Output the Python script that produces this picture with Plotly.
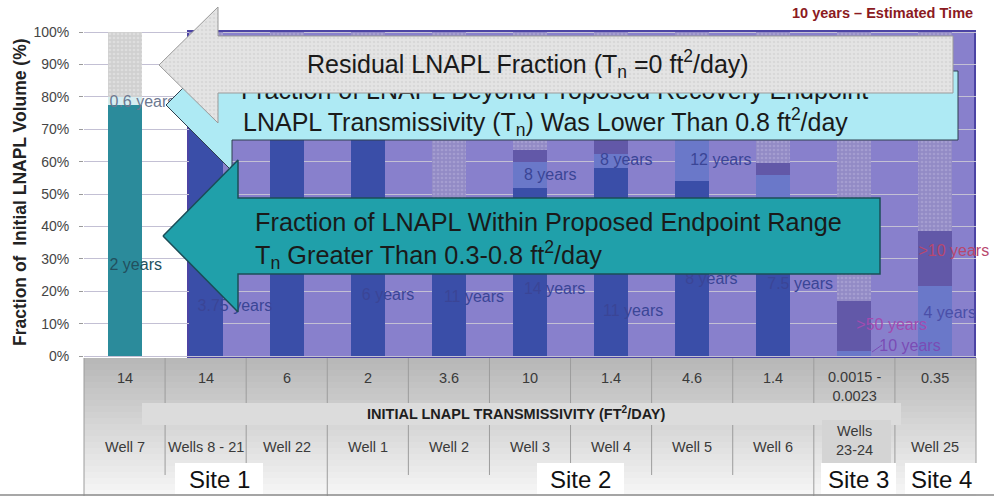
import plotly.graph_objects as go

# ---------------- data ----------------
wells = ["Well 7", "Wells 8 - 21", "Well 22", "Well 1", "Well 2", "Well 3",
         "Well 4", "Well 5", "Well 6", "Wells<br>23-24", "Well 25"]
transmissivity = ["14", "14", "6", "2", "3.6", "10", "1.4", "4.6", "1.4",
                  "0.0015 -<br>0.0023", "0.35"]
sites = ["Site 1", "Site 2", "Site 3", "Site 4"]

# fractions of initial LNAPL volume (%), stacked bottom to top
within_endpoint = [77.5, 80, 75, 70, 48, 52, 58, 54, 45, 0, 0]
beyond_endpoint = [2.5, 0, 0, 0, 0, 8, 4.5, 16, 11, 1.5, 21.5]
beyond_ten_years = [0, 0, 0, 0, 0, 3.5, 5, 0, 3.5, 15.5, 17]
residual = [20, 20, 25, 30, 52, 36.5, 32.5, 30, 40.5, 83, 61.5]

# estimated recovery time labels: (well index, height in %, text)
time_labels = [
    (0, 78.1, "0.6 years"), (0, 27.8, "2 years"), (1, 15.1, "3.75 years"),
    (3, 18.5, "6 years"), (4, 17.9, "11 years"), (5, 20.4, "14 years"),
    (6, 13.6, "11 years"), (7, 23.5, "8 years"), (8, 21.9, "7.5 years"),
    (5, 55.6, "8 years"), (6, 60.2, "8 years"), (7, 60.2, "12 years"),
    (10, 32.1, ">10 years"), (10, 13.0, "4 years"),
    (9, 9.3, ">50 years"), (9, 2.8, "10 years"),
]
# label placement (pixels right of the bar's left edge) and colour
label_style = [
    (2, "#6c7890"), (2, "#22505e"), (9, "#3a4596"),
    (11, "#3a4596"), (12, "#3a4596"), (11, "#3a4596"),
    (9, "#3a4596"), (10, "#3a4596"), (11, "#3a4596"),
    (11, "#3a4596"), (6, "#3a4596"), (15, "#3a4596"),
    (0, "#b8476e"), (5, "#4a4fa8"),
    (19, "#a24bb0"), (42, "#7a4cb5"),
]

# ---------------- geometry helpers ----------------
W, H = 994, 496
L, R = 84, 976          # horizontal extent of the category columns
Y0, Y100 = 356, 32      # pixel rows of 0 % and 100 %
N = len(wells)
CW = (R - L) / N
BAR_W = 0.42
FONT = "Arial, Liberation Sans, sans-serif"


def X(px):
    return -0.5 + (px - L) / CW


def Y(py):
    return (Y0 - py) * 100.0 / (Y0 - Y100)


def PX(px):
    return (px - L) / (R - L)


def PY(py):
    return 1 - py / H


idx = list(range(N))
inside = [i > 0 for i in idx]   # columns under the shaded band


def pick(outside_col, inside_col):
    return [inside_col if s else outside_col for s in inside]


fig = go.Figure()

fig.add_bar(x=idx, y=within_endpoint, width=BAR_W,
            marker=dict(color=pick("#2b8b9b", "#3a4ea8"), line_width=0),
            hoverinfo="skip")
fig.add_bar(x=idx, y=beyond_endpoint, width=BAR_W,
            marker=dict(color=pick("#d6edf1", "#6a78c9"), line_width=0),
            hoverinfo="skip")
fig.add_bar(x=idx, y=beyond_ten_years, width=BAR_W,
            marker=dict(color=pick("#8c8c8c", "#6258a8"), line_width=0),
            hoverinfo="skip")
# residual fraction: speckled grey, tinted where the band covers it
for shaded, bg, fg in [(False, "#d0d0d0", "#ececec"), (True, "#928bc5", "#b5afdc")]:
    fig.add_bar(x=idx, y=[v if s == shaded else 0 for v, s in zip(residual, inside)],
                width=BAR_W,
                marker=dict(color=bg, line_width=0,
                            pattern=dict(shape=".", fgcolor=fg, size=4,
                                         solidity=0.35, fillmode="overlay")),
                hoverinfo="skip")

# recovery-time labels
fig.add_scatter(
    x=[w - BAR_W / 2 + st[0] / CW for (w, _, _), st in zip(time_labels, label_style)],
    y=[v for _, v, _ in time_labels],
    text=[t for _, _, t in time_labels],
    mode="text", textposition="middle right",
    textfont=dict(family=FONT, size=16, color=[st[1] for st in label_style]),
    cliponaxis=False, hoverinfo="skip")


def arrow(points, fill, edge, width, z, pattern=None):
    xs = [X(p[0]) for p in points] + [X(points[0][0])]
    ys = [Y(p[1]) for p in points] + [Y(points[0][1])]
    kw = dict(fillpattern=pattern) if pattern else {}
    fig.add_scatter(x=xs, y=ys, mode="lines", fill="toself", fillcolor=fill,
                    line=dict(color=edge, width=width), hoverinfo="skip",
                    zorder=z, **kw)


# light-cyan call-out (beyond endpoint)
arrow([(166, 105), (232, 39), (232, 71), (958, 71), (958, 140), (232, 140),
       (232, 171)], "#aeeaf4", "#2f3f4f", 1, 2)
fig.add_scatter(x=[X(241)], y=[Y(93)], mode="text", textposition="middle right",
                text=["Fraction of LNAPL Beyond Proposed Recovery Endpoint"],
                textfont=dict(family=FONT, size=25, color="#1a1a1a"),
                hoverinfo="skip", zorder=3)
# grey call-out (residual)
arrow([(159, 65), (218, 7), (218, 36), (953, 36), (953, 93), (218, 93),
       (218, 123)], "#e4e4e4", "#9a9a9a", 1, 4,
      pattern=dict(shape=".", bgcolor="#e4e4e4", fgcolor="#cbcbcb",
                   size=4, solidity=0.3))
# teal call-out (within endpoint range)
arrow([(163, 236), (238, 160), (238, 198), (880, 198), (880, 274), (238, 274),
       (238, 312)], "#20a0aa", "#1b4d57", 1.5, 4)

# ---------------- shapes ----------------
shapes = []


def rect(x0, y0, x1, y1, fill, line=None, lw=0, layer="below"):
    shapes.append(dict(type="rect", xref="paper", yref="paper",
                       x0=PX(x0), x1=PX(x1), y0=PY(y1), y1=PY(y0),
                       fillcolor=fill, layer=layer,
                       line=dict(color=line or fill, width=lw)))


def seg(x0, y0, x1, y1, color, lw=1, layer="below"):
    shapes.append(dict(type="line", xref="paper", yref="paper",
                       x0=PX(x0), x1=PX(x1), y0=PY(y0), y1=PY(y1),
                       layer=layer, line=dict(color=color, width=lw)))


# shaded band behind wells 8-25
rect(188, 31, 975, 358, "#8880cc", "#4c44a4", 2)

# table under the chart: vertical grey gradient
bands = 23
for k in range(bands):
    g = int(184 + (246 - 184) * k / (bands - 1))
    rect(L, 358 + 6 * k, R, 358 + 6 * (k + 1) + 0.5, f"rgb({g},{g},{g})")
for k in range(N + 1):
    xk = L + CW * k
    bottom = 496 if k in (0, 3, 9) else (463 if k >= 10 else 475)
    seg(xk, 358, xk, bottom, "#9c9c9c", 1)
rect(142, 403, 901, 425, "#dcdcdc")
rect(822, 420, 891, 463, "#d4d4d4")
site_boxes = [(175, 263), (537, 624), (821, 896), (905, 977)]
for x0, x1 in site_boxes:
    rect(x0, 463, x1, 494, "#ffffff")
seg(0, 495, W, 495, "#8a8a8a", 1.5)
# leader for the "10 years" label
seg(872, 352, 882, 345, "#7a4cb5", 1, layer="above")

# ---------------- annotations ----------------
ann = []


def note(px, py, text, size, color="#222222", xanchor="center", **kw):
    ann.append(dict(x=PX(px), y=PY(py), xref="paper", yref="paper", text=text,
                    showarrow=False, xanchor=xanchor, yanchor="middle",
                    font=dict(family=FONT, size=size, color=color), **kw))


note(975, 13, "<b>10 years – Estimated Time</b>", 14.5, "#8b1a22", xanchor="right")
note(20, 192, "<b>Fraction of  Initial LNAPL Volume (%)</b>", 17.5, "#222222",
     textangle=-90)
note(305, 64, "Residual LNAPL Fraction (T<sub>n</sub> =0 ft<sup>2</sup>/day)",
     25, "#1a1a1a", xanchor="left")
note(241, 122, "LNAPL Transmissivity (T<sub>n</sub>) Was Lower Than 0.8 ft<sup>2</sup>/day",
     25, "#1a1a1a", xanchor="left")
note(253, 240, "Fraction of LNAPL Within Proposed Endpoint Range<br>"
     "T<sub>n</sub> Greater Than 0.3-0.8 ft<sup>2</sup>/day",
     25.3, "#1a1a1a", xanchor="left", align="left")

for i in idx:
    cx = L + CW * (i + 0.5)
    t = transmissivity[i]
    note(cx, 386.5 if "<br>" in t else 378, t, 14.5, "#3a3a3a")
    w = wells[i]
    note(cx, 440 if "<br>" in w else 447, w, 14.5, "#3a3a3a")
note(516, 413, "<b>INITIAL LNAPL TRANSMISSIVITY (FT<sup>2</sup>/DAY)</b>", 14.5, "#1e1e1e")
for (x0, x1), s in zip(site_boxes, sites):
    note((x0 + x1) / 2, 479, s, 24, "#111111")

fig.update_layout(
    width=W, height=H, barmode="stack", showlegend=False,
    margin=dict(l=L, r=W - R, t=0, b=0),
    paper_bgcolor="white", plot_bgcolor="white",
    shapes=shapes, annotations=ann,
    xaxis=dict(range=[-0.5, N - 0.5], visible=False, fixedrange=True),
    yaxis=dict(range=[Y(H), Y(0)], tickvals=list(range(0, 101, 10)),
               ticktext=[f"{v}%" for v in range(0, 101, 10)],
               showgrid=True, gridcolor="#c3c0d4", gridwidth=1,
               zeroline=False, showline=False, ticks="outside", ticklen=4,
               tickcolor="#9a9a9a", ticklabelstandoff=7,
               tickfont=dict(family=FONT, size=14, color="#454545"),
               fixedrange=True),
)

fig.write_html("out.html")
